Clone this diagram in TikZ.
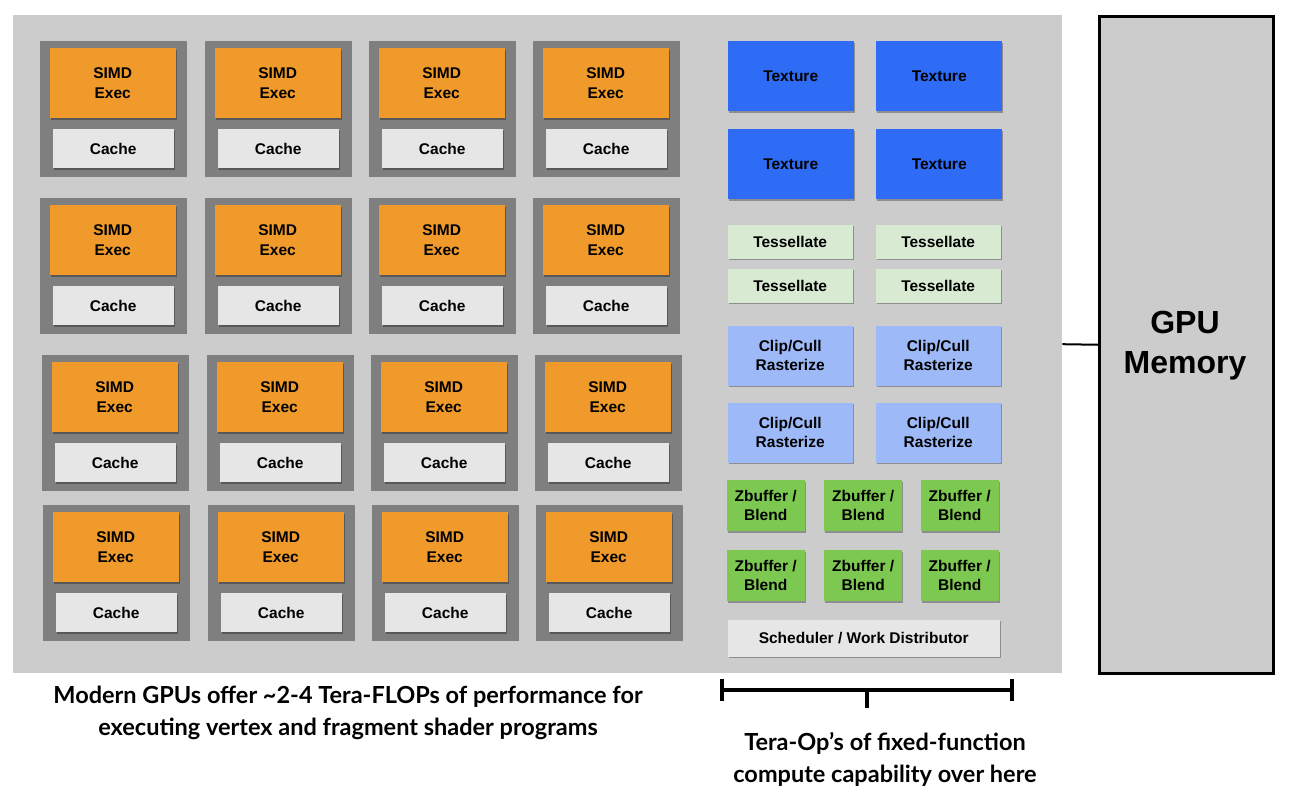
\documentclass[tikz,border=0pt]{standalone}
\usepackage{fontspec}
\setmainfont{Liberation Sans}
\newfontfamily\capfont{Lato}
\usetikzlibrary{shadows}
\definecolor{panelgray}{HTML}{CCCCCC}
\definecolor{coregray}{HTML}{7F7F7F}
\definecolor{simdorange}{HTML}{F09A2B}
\definecolor{cachegray}{HTML}{E6E6E6}
\definecolor{texblue}{HTML}{2E6CF6}
\definecolor{tessgreen}{HTML}{D9EAD3}
\definecolor{clipblue}{HTML}{9DB9F8}
\definecolor{zbgreen}{HTML}{7DC850}
\tikzset{
  lbl/.style={font=\bfseries\fontsize{15.5}{19.5}\selectfont, align=center, text=black},
  box/.style={lbl, inner sep=0pt, anchor=north west,
    drop shadow={shadow xshift=0.8pt, shadow yshift=-1.5pt, opacity=0.3, fill=black}},
  corebox/.style={fill=coregray, inner sep=0pt, anchor=north west, minimum width=147pt, minimum height=136pt},
  simdbox/.style={box, fill=simdorange, minimum width=126pt, minimum height=70pt},
  cachebox/.style={box, fill=cachegray, minimum width=121pt, minimum height=39pt},
  texbox/.style={box, fill=texblue, minimum width=126pt, minimum height=70pt},
  tessbox/.style={box, fill=tessgreen, minimum width=125pt, minimum height=34pt},
  clipbox/.style={box, fill=clipblue, minimum width=125pt, minimum height=60pt},
  zbbox/.style={box, fill=zbgreen, minimum width=78pt, minimum height=51pt},
  schedbox/.style={box, fill=cachegray, minimum width=272pt, minimum height=37pt},
  caption/.style={font=\capfont\bfseries\fontsize{23.5}{32}\selectfont, align=center, text=black},
  bracket/.style={line width=4pt, black},
}
\begin{document}
\begin{tikzpicture}[x=1pt,y=-1pt]
\useasboundingbox (0,0) rectangle (1290,798);
\fill[white] (0,0) rectangle (1290,798);
% panel
\node[fill=panelgray, inner sep=0pt, anchor=north west, minimum width=1049pt, minimum height=658pt] (panel) at (13,15) {};
% memory
\node[draw=black, line width=2.5pt, fill=panelgray, inner sep=0pt, anchor=north west,
      minimum width=174pt, minimum height=657pt] (mem) at (1098,15) {};
\node[font=\bfseries\fontsize{32}{40}\selectfont, align=center, inner sep=0pt] (memlbl) at (1185,346) {GPU\\Memory};
\draw[line width=2pt] (panel.east) -- (mem.west);
% cores
\foreach \r/\y/\dx in {1/41/0, 2/198/0, 3/355/2, 4/505/3} {
  \foreach \c/\x in {1/39.5, 2/204.5, 3/368.5, 4/532.5} {
    \node[corebox] (core-\r-\c) at (\x+\dx,\y) {};
    \node[simdbox] (simd-\r-\c) at (\x+\dx+10,\y+7) {SIMD\\[0.5pt]Exec};
    \node[cachebox] (cache-\r-\c) at (\x+\dx+13,\y+88) {Cache};
  }
}
% textures
\node[texbox] (tex1) at (727.5,41) {Texture};
\node[texbox] (tex2) at (876,41) {Texture};
\node[texbox] (tex3) at (727.5,129) {Texture};
\node[texbox] (tex4) at (876,129) {Texture};
% tessellate
\node[tessbox] (tess1) at (727.5,224.5) {Tessellate};
\node[tessbox] (tess2) at (875.5,224.5) {Tessellate};
\node[tessbox] (tess3) at (727.5,268.5) {Tessellate};
\node[tessbox] (tess4) at (875.5,268.5) {Tessellate};
% clip/cull
\node[clipbox] (clip1) at (727.5,325.5) {Clip/Cull\\Rasterize};
\node[clipbox] (clip2) at (875.5,325.5) {Clip/Cull\\Rasterize};
\node[clipbox] (clip3) at (727.5,402.5) {Clip/Cull\\Rasterize};
\node[clipbox] (clip4) at (875.5,402.5) {Clip/Cull\\Rasterize};
% zbuffer
\foreach \i/\y in {1/480, 2/550} {
  \node[zbbox] (zb-\i-1) at (726.5,\y) {Zbuffer /\\Blend};
  \node[zbbox] (zb-\i-2) at (824,\y) {Zbuffer /\\Blend};
  \node[zbbox] (zb-\i-3) at (920.5,\y) {Zbuffer /\\Blend};
}
% scheduler
\node[schedbox] (sched) at (727.5,619.5) {Scheduler / Work Distributor};
% bracket
\coordinate (bl) at (722,689.5);
\coordinate (br) at (1012,689.5);
\coordinate (bm) at (867,689.5);
\coordinate (blt) at (722,679);
\coordinate (blb) at (722,701);
\coordinate (brt) at (1012,679);
\coordinate (brb) at (1012,701);
\coordinate (bmb) at (867,708);
\draw[bracket] (bl) -- (br);
\draw[bracket] (blt) -- (blb);
\draw[bracket] (brt) -- (brb);
\draw[bracket] (bm) -- (bmb);
% captions
\node[caption] (cap1) at (348,713) {Modern GPUs offer \textasciitilde2-4 Tera-FLOPs of performance for\\executing vertex and fragment shader programs};
\node[caption] (cap2) at (885,759) {Tera-Op’s of fixed-function\\compute capability over here};
\end{tikzpicture}
\end{document}
